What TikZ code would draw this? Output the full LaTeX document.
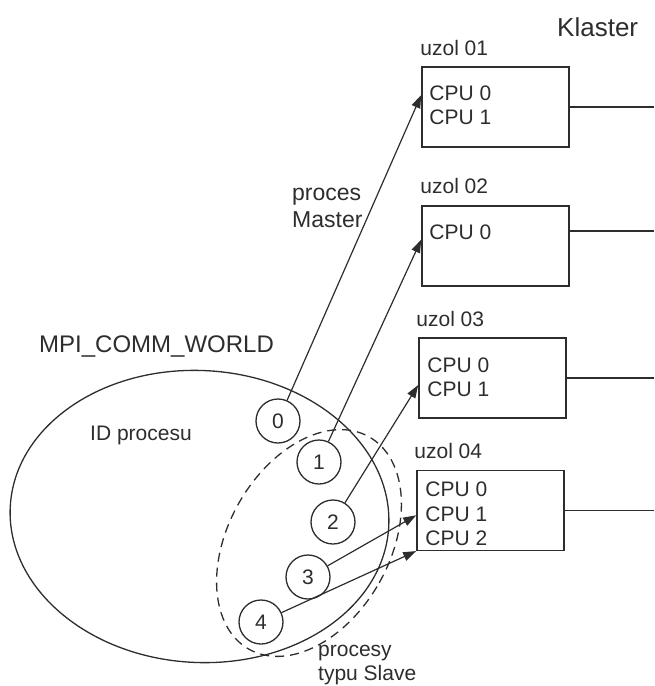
\documentclass[tikz,border=0pt]{standalone}
\usepackage{fontspec}
\setmainfont{Liberation Sans}
\usepackage{xcolor}
\usetikzlibrary{arrows.meta}
\definecolor{ink}{RGB}{45,45,45}
\tikzset{uzol/.style={draw=ink, line width=1.6pt, minimum width=147pt, minimum height=80pt, inner sep=0pt}}
\tikzset{proc/.style={draw=ink, fill=white, circle, line width=1.3pt, minimum size=44pt, inner sep=0pt, text=ink, font=\fontsize{21}{25}\selectfont}}
\tikzset{txt/.style={text=ink, inner sep=0pt, align=left, font=\fontsize{21}{24.5}\selectfont}}
\tikzset{spoj/.style={draw=ink, line width=1.2pt, -{Triangle[length=13pt,width=9pt]}}}
\tikzset{lin/.style={draw=ink, line width=1.2pt}}

\begin{document}
\begin{tikzpicture}[x=1pt, y=-1pt]
\useasboundingbox (0,0) rectangle (654,686);
\node[txt, anchor=base west, font=\fontsize{26}{30}\selectfont] (klaster) at (557,36.7) {Klaster};
% uzly klastra
\node[uzol] (u1) at (495.5,107) {};
\node[uzol] (u2) at (495.5,245.7) {};
\node[uzol] (u3) at (492.5,378) {};
\node[uzol] (u4) at (490.5,510.3) {};
\node[txt, anchor=base west] (l1) at ([shift={(-1pt,11pt)}]u1.north west) {uzol 01};
\node[txt, anchor=base west] (l2) at ([shift={(-1pt,11pt)}]u2.north west) {uzol 02};
\node[txt, anchor=base west] (l3) at ([shift={(-2pt,11pt)}]u3.north west) {uzol 03};
\node[txt, anchor=base west] (l4) at ([shift={(-2pt,11pt)}]u4.north west) {uzol 04};
\node[txt, anchor=west] (cpu1) at ([shift={(8pt,1.5pt)}]u1.west) {CPU 0\\CPU 1};
\node[txt, anchor=west] (cpu2) at ([shift={(8pt,13pt)}]u2.west) {CPU 0};
\node[txt, anchor=west] (cpu3) at ([shift={(9pt,0.5pt)}]u3.west) {CPU 0\\CPU 1};
\node[txt, anchor=west] (cpu4) at ([shift={(9pt,-3.7pt)}]u4.west) {CPU 0\\CPU 1\\CPU 2};
\coordinate (edge) at (654,0);
\draw[lin] (u1.east) -- (u1.east -| edge);
\draw[lin] ([yshift=14.7pt]u2.east) coordinate (e2) -- (e2 -| edge);
\draw[lin] (u3.east) -- (u3.east -| edge);
\draw[lin] (u4.east) -- (u4.east -| edge);
% komunikator
\draw[lin, line width=1.3pt, rotate around={-3:(199.5,516.5)}] (199.5,516.5) ellipse [x radius=189.5pt, y radius=146pt];
\draw[lin, line width=1.3pt, dash pattern=on 9pt off 6pt, rotate around={-29.5:(309,543)}] (309,543) ellipse [x radius=80.7pt, y radius=122pt];
\node[txt, anchor=base west, font=\fontsize{24}{28}\selectfont] (world) at (39,352) {MPI\_COMM\_WORLD};
\node[txt, anchor=base west] (id) at (90,440) {ID procesu};
% procesy
\node[proc] (p0) at (278,421) {0};
\node[proc] (p1) at (319,462) {1};
\node[proc] (p2) at (333,522) {2};
\node[proc] (p3) at (308,577) {3};
\node[proc] (p4) at (261,622) {4};
\draw[spoj] (p0) -- ([yshift=12pt]u1.west);
\draw[spoj] (p1) -- ([yshift=6pt]u2.west);
\draw[spoj] (p2) -- ([yshift=-7pt]u3.west);
\draw[spoj] (p3) -- ([yshift=-5pt]u4.west);
\draw[spoj] (p4) -- (u4.south west);
\node[txt, anchor=west, font=\fontsize{23}{27}\selectfont] (master) at (292,208) {proces\\Master};
\node[txt, anchor=west, font=\fontsize{21}{23.5}\selectfont] (slave) at (318,665) {procesy\\typu Slave};
\end{tikzpicture}
\end{document}
